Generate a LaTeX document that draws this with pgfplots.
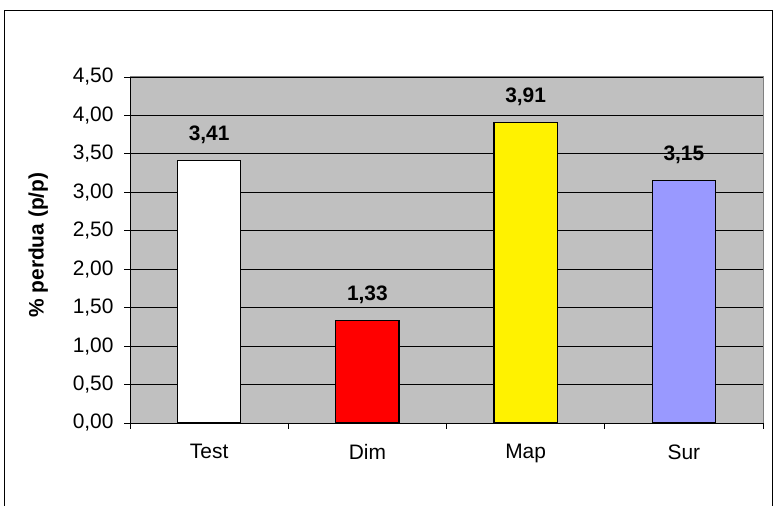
\documentclass[border=0pt]{standalone}
\usepackage{pgfplots}
\pgfplotsset{compat=1.18}
\usepackage{fontspec}
\setmainfont{Liberation Sans}
\definecolor{bggray}{RGB}{192,192,192}
\definecolor{pgray}{RGB}{128,128,128}
\definecolor{peri}{RGB}{153,153,255}
\begin{document}
\begin{tikzpicture}[x=1bp,y=1bp]
\useasboundingbox (0,0) rectangle (774,506);
\draw[line width=1bp] (4,-5) -- (4,495) -- (772.5,495) -- (772.5,-5);
\begin{axis}[
  at={(130bp,83bp)}, anchor=south west,
  scale only axis, width=633bp, height=346bp,
  xmin=-0.5, xmax=3.5, ymin=0, ymax=4.5,
  ytick={0,0.5,...,4.5},
  xtick={0,1,2,3},
  xticklabels={Test,Dim,Map,Sur},
  minor xtick={-0.5,0.5,1.5,2.5,3.5},
  major x tick style={draw=none},
  tick align=outside,
  major tick length=6bp, minor tick length=6bp,
  tick style={black, line width=0.8bp},
  ymajorgrids, grid style={black, line width=0.8bp},
  axis background/.style={fill=bggray},
  axis x line*=bottom, axis y line*=left,
  axis line style={black, line width=0.9bp, -},
  /pgf/number format/assume math mode=true,
  yticklabel={\pgfmathprintnumber[fixed,fixed zerofill,precision=2,use comma]{\tick}},
  ticklabel style={font=\fontsize{21}{25}\selectfont},
  xticklabel style={yshift=-12bp},
  yticklabel style={xshift=-7bp},
  ylabel={\% perdua (p/p)},
  ylabel style={font=\bfseries\fontsize{21}{25}\selectfont, at={(axis description cs:-0.145,0.514)}, anchor=center},
  ybar, bar width=0.4, bar shift=0pt,
  nodes near coords={\pgfmathprintnumber[fixed,fixed zerofill,precision=2,use comma]{\pgfplotspointmeta}},
  nodes near coords style={font=\bfseries\fontsize{21}{25}\selectfont, anchor=south, yshift=13bp},
  clip=false,
]
\draw[pgray, line width=1bp] (rel axis cs:0,1) -- (rel axis cs:1,1) -- (rel axis cs:1,0);
\addplot[draw=black, line width=1.1bp, fill=white] coordinates {(0,3.41)};
\addplot[draw=black, line width=1.1bp, fill=red] coordinates {(1,1.33)};
\addplot[draw=black, line width=1.1bp, fill=yellow] coordinates {(2,3.91)};
\addplot[draw=black, line width=1.1bp, fill=peri] coordinates {(3,3.15)};
\end{axis}
\end{tikzpicture}
\end{document}
